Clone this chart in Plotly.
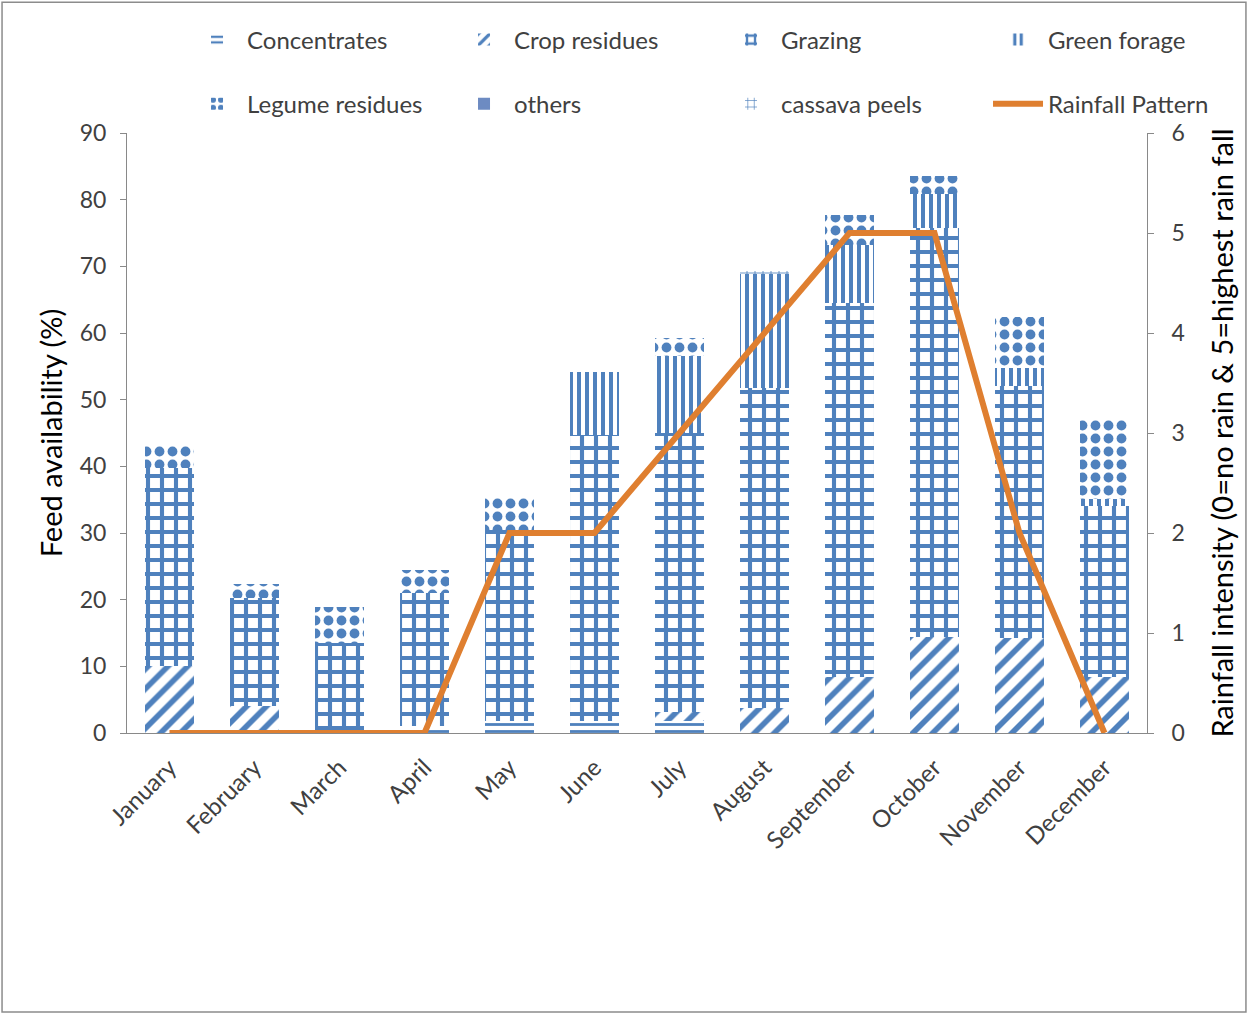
import plotly.graph_objects as go

months = ["January", "February", "March", "April", "May", "June", "July",
          "August", "September", "October", "November", "December"]

# Feed availability (%) by feed type, stacked per month
concentrates = [0, 0, 0, 1.0, 1.8, 1.8, 1.8, 0, 0, 0, 0, 0]
crop_residues = [10.0, 4.0, 0, 0, 0, 0, 1.4, 3.7, 8.4, 14.4, 14.3, 8.4]
grazing = [29.7, 16.2, 13.5, 20.0, 28.6, 42.9, 41.8, 48.0, 56.1, 61.3, 37.7, 25.6]
green_forage = [0, 0, 0, 0, 0, 9.4, 11.5, 17.2, 8.7, 5.2, 2.7, 1.1]
legume_residues = [3.6, 2.1, 5.4, 3.4, 4.8, 0, 2.7, 0, 4.5, 2.6, 7.7, 12.0]
others = [0, 0, 0, 0, 0, 0, 0, 0, 0, 0, 0, 0]
cassava_peels = [0, 0, 0, 0, 0, 0, 0, 0.4, 0, 0, 0, 0]

# Rainfall intensity (0 = no rain, 5 = highest rain fall)
rainfall = [0, 0, 0, 0, 2, 2, 3, 4, 5, 5, 2, 0]

BLUE = "#4F81BD"
ORANGE = "#DF7F30"
AXIS_GRAY = "#898989"
TEXT = "#404040"
FONT = "Lato"

fig = go.Figure()

bar_series = [
    ("Concentrates", concentrates, dict(shape="-", size=7, solidity=0.4), "legend"),
    ("Crop residues", crop_residues, dict(shape="/", size=14, solidity=0.4), "legend"),
    ("Grazing", grazing, dict(shape="+", size=14, solidity=0.5), "legend"),
    ("Green forage", green_forage, dict(shape="|", size=8, solidity=0.5), "legend"),
    ("Legume residues", legume_residues, dict(shape=".", size=13, solidity=0.45), "legend2"),
    ("others", others, None, "legend2"),
    ("cassava peels", cassava_peels, dict(shape="+", size=8, solidity=0.2), "legend2"),
]

for name, values, pat, leg in bar_series:
    if pat is None:
        marker = dict(color="#6D8BC2", line=dict(width=0))
    else:
        marker = dict(
            color="white",
            line=dict(width=0),
            pattern=dict(fgcolor=BLUE, bgcolor="white", fillmode="replace", **pat),
        )
    fig.add_trace(go.Bar(x=months, y=values, name=name, marker=marker,
                         legend=leg, yaxis="y"))

fig.add_trace(go.Scatter(
    x=months, y=rainfall, name="Rainfall Pattern", mode="lines",
    line=dict(color=ORANGE, width=6), yaxis="y2", legend="legend2",
))

# Two single-row legends, each four entries wide
legend_common = dict(
    orientation="h", xanchor="right", yanchor="middle",
    traceorder="normal",
    font=dict(family=FONT, size=24, color=TEXT),
    entrywidth=202, entrywidthmode="pixels",
    bgcolor="rgba(0,0,0,0)", itemwidth=50,
)

fig.update_layout(
    width=1249, height=1015,
    margin=dict(l=127, r=102, t=133, b=282, autoexpand=False),
    paper_bgcolor="white", plot_bgcolor="white",
    barmode="stack", bargap=0.435,
    font=dict(family=FONT, color=TEXT),
    legend=dict(x=1.1059, y=1.155, **legend_common),
    legend2=dict(x=1.1059, y=1.048, **legend_common),
    xaxis=dict(
        showline=True, linecolor=AXIS_GRAY, linewidth=1,
        tickangle=-45, tickfont=dict(family=FONT, size=24, color=TEXT),
        ticks="", showgrid=False, ticklabelstandoff=10,
    ),
    yaxis=dict(
        range=[0, 90], dtick=10, showgrid=False, zeroline=False,
        showline=True, linecolor=AXIS_GRAY, linewidth=1,
        ticks="outside", ticklen=6, tickcolor=AXIS_GRAY,
        ticklabelstandoff=9,
        tickfont=dict(family=FONT, size=23, color=TEXT),
        title=dict(text="Feed availability (%)",
                   font=dict(family=FONT, size=29, color="#000000"), standoff=8),
    ),
    yaxis2=dict(
        range=[0, 6], dtick=1, overlaying="y", side="right",
        showgrid=False, zeroline=False,
        showline=True, linecolor=AXIS_GRAY, linewidth=1,
        ticks="outside", ticklen=6, tickcolor=AXIS_GRAY,
        ticklabelstandoff=13,
        tickfont=dict(family=FONT, size=23, color=TEXT),
        title=dict(text="Rainfall intensity (0=no rain & 5=highest rain fall",
                   font=dict(family=FONT, size=29, color="#000000"), standoff=28),
    ),
    shapes=[dict(
        type="rect", xref="paper", yref="paper",
        x0=-0.1225, x1=1.097, y0=-0.465, y1=1.218,
        line=dict(color="#8C8C8C", width=1.5), fillcolor="rgba(0,0,0,0)",
        layer="below",
    )],
)

fig.write_html("out.html")
